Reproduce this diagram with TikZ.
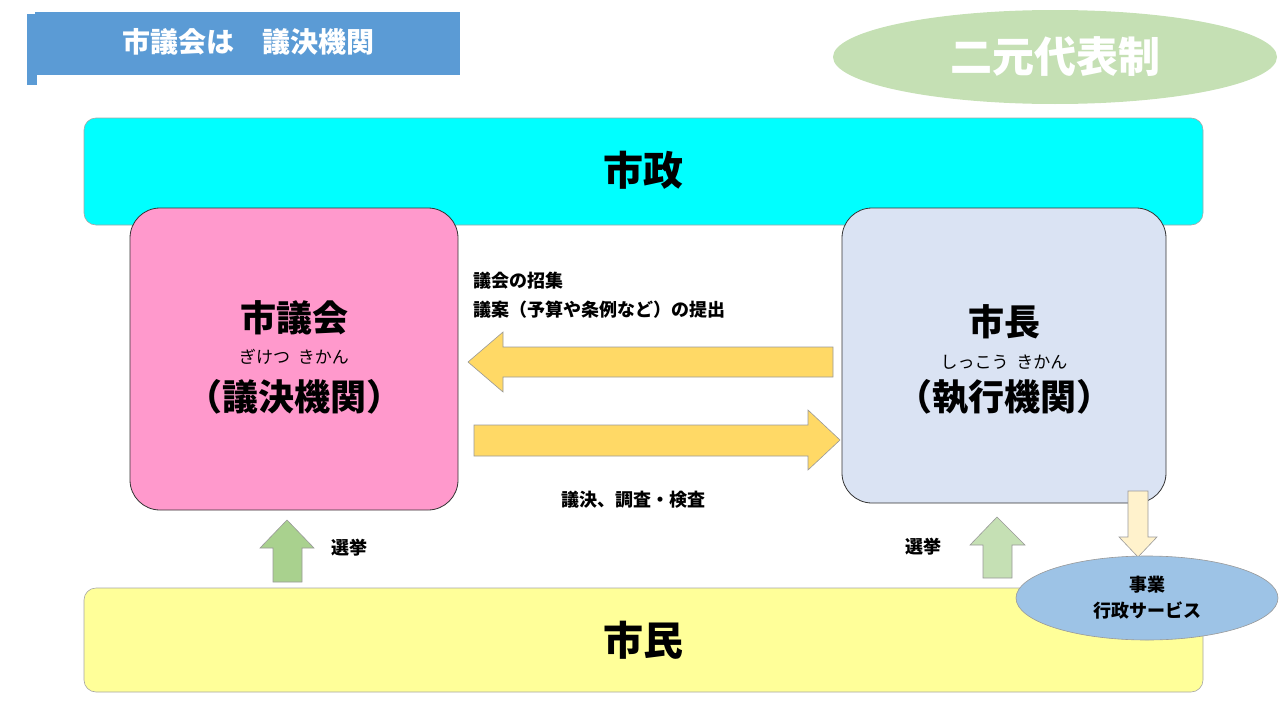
\documentclass[tikz,border=0pt]{standalone}
\usepackage{fontspec}
\usetikzlibrary{shapes.geometric}
\setmainfont{Noto Sans CJK JP}
\begin{document}
\begin{tikzpicture}[x=1pt,y=-1pt,
  box/.style={draw=black!80,line width=0.8pt,rounded corners=30pt},
  band/.style={draw=gray!70,line width=0.6pt,rounded corners=12pt},
  arr/.style={draw=gray!80,line width=0.6pt},
  t/.style={font=\fontsize{18}{22}\selectfont\bfseries,align=left,anchor=west}]
\useasboundingbox (0,0) rectangle (1280,720);
% banner
\fill[fill={rgb,255:red,91;green,155;blue,213}] (35,12) rectangle (460,75);
\fill[fill={rgb,255:red,91;green,155;blue,213}] (27,14) rectangle (37,85);
\node[text=white,font=\fontsize{28}{32}\selectfont\bfseries] (ttl) at (248,42) {市議会は\quad 議決機関};
% top ellipse
\node[ellipse,fill={rgb,255:red,197;green,224;blue,180},minimum width=444pt,minimum height=94pt,inner sep=0] (dual) at (1055,57) {};
\node[text=white,font=\fontsize{42}{46}\selectfont\bfseries] at (dual) {二元代表制};
% bands
\draw[band,fill={rgb,255:red,0;green,255;blue,255}] (84,118) rectangle (1203,225);
\node[font=\fontsize{40}{44}\selectfont\bfseries] (shisei) at (643,170) {市政};
\draw[band,fill={rgb,255:red,255;green,255;blue,153}] (84,588) rectangle (1203,692);
\node[font=\fontsize{40}{44}\selectfont\bfseries] (shimin) at (643,640) {市民};
% boxes
\draw[box,fill={rgb,255:red,255;green,153;blue,204}] (130,208) rectangle (458,510);
\node[font=\fontsize{36}{40}\selectfont\bfseries] (gikai) at (294,318) {市議会};
\node[font=\fontsize{17}{20}\selectfont] at (294,357) {ぎけつ\ \ きかん};
\node[font=\fontsize{36}{40}\selectfont\bfseries] at (294,397) {（議決機関）};
\draw[box,fill={rgb,255:red,218;green,227;blue,243}] (842,208) rectangle (1166,503);
\node[font=\fontsize{36}{40}\selectfont\bfseries] (shicho) at (1004,322) {市長};
\node[font=\fontsize{17}{20}\selectfont] at (1004,362) {しっこう\ \ きかん};
\node[font=\fontsize{36}{40}\selectfont\bfseries] at (1004,397) {（執行機関）};
% horizontal arrows
\draw[arr,fill={rgb,255:red,255;green,217;blue,102}] (833,347) -- (503,347) -- (503,332) -- (468,362) -- (503,392) -- (503,377) -- (833,377) -- cycle;
\draw[arr,fill={rgb,255:red,255;green,217;blue,102}] (474,425) -- (808,425) -- (808,410) -- (840,440) -- (808,470) -- (808,456) -- (474,456) -- cycle;
\node[t] (l1) at (470,281) {議会の招集};
\node[t] (l2) at (470,310) {議案（予算や条例など）の提出};
\node[t,anchor=center] (l3) at (633,500) {議決、調査・検査};
% up arrows
\draw[arr,fill={rgb,255:red,169;green,209;blue,142}] (273,582) -- (273,548) -- (260,548) -- (287,520) -- (314,548) -- (302,548) -- (302,582) -- cycle;
\node[t] (s1) at (328,548) {選挙};
\draw[arr,fill={rgb,255:red,197;green,224;blue,180}] (983,578) -- (983,545) -- (970,545) -- (997,517) -- (1025,545) -- (1012,545) -- (1012,578) -- cycle;
\node[t] (s2) at (902,547) {選挙};
% down arrow
\draw[arr,fill={rgb,255:red,255;green,242;blue,204}] (1128,491) -- (1148,491) -- (1148,537) -- (1157,537) -- (1138,557) -- (1119,537) -- (1128,537) -- cycle;
\node[ellipse,draw=gray!80,line width=0.6pt,fill={rgb,255:red,157;green,195;blue,230},minimum width=262pt,minimum height=84pt,inner sep=0] (svc) at (1147,598) {};
\node[font=\fontsize{18}{26}\selectfont\bfseries,align=center] at (svc) {事業\\行政サービス};
\end{tikzpicture}
\end{document}
